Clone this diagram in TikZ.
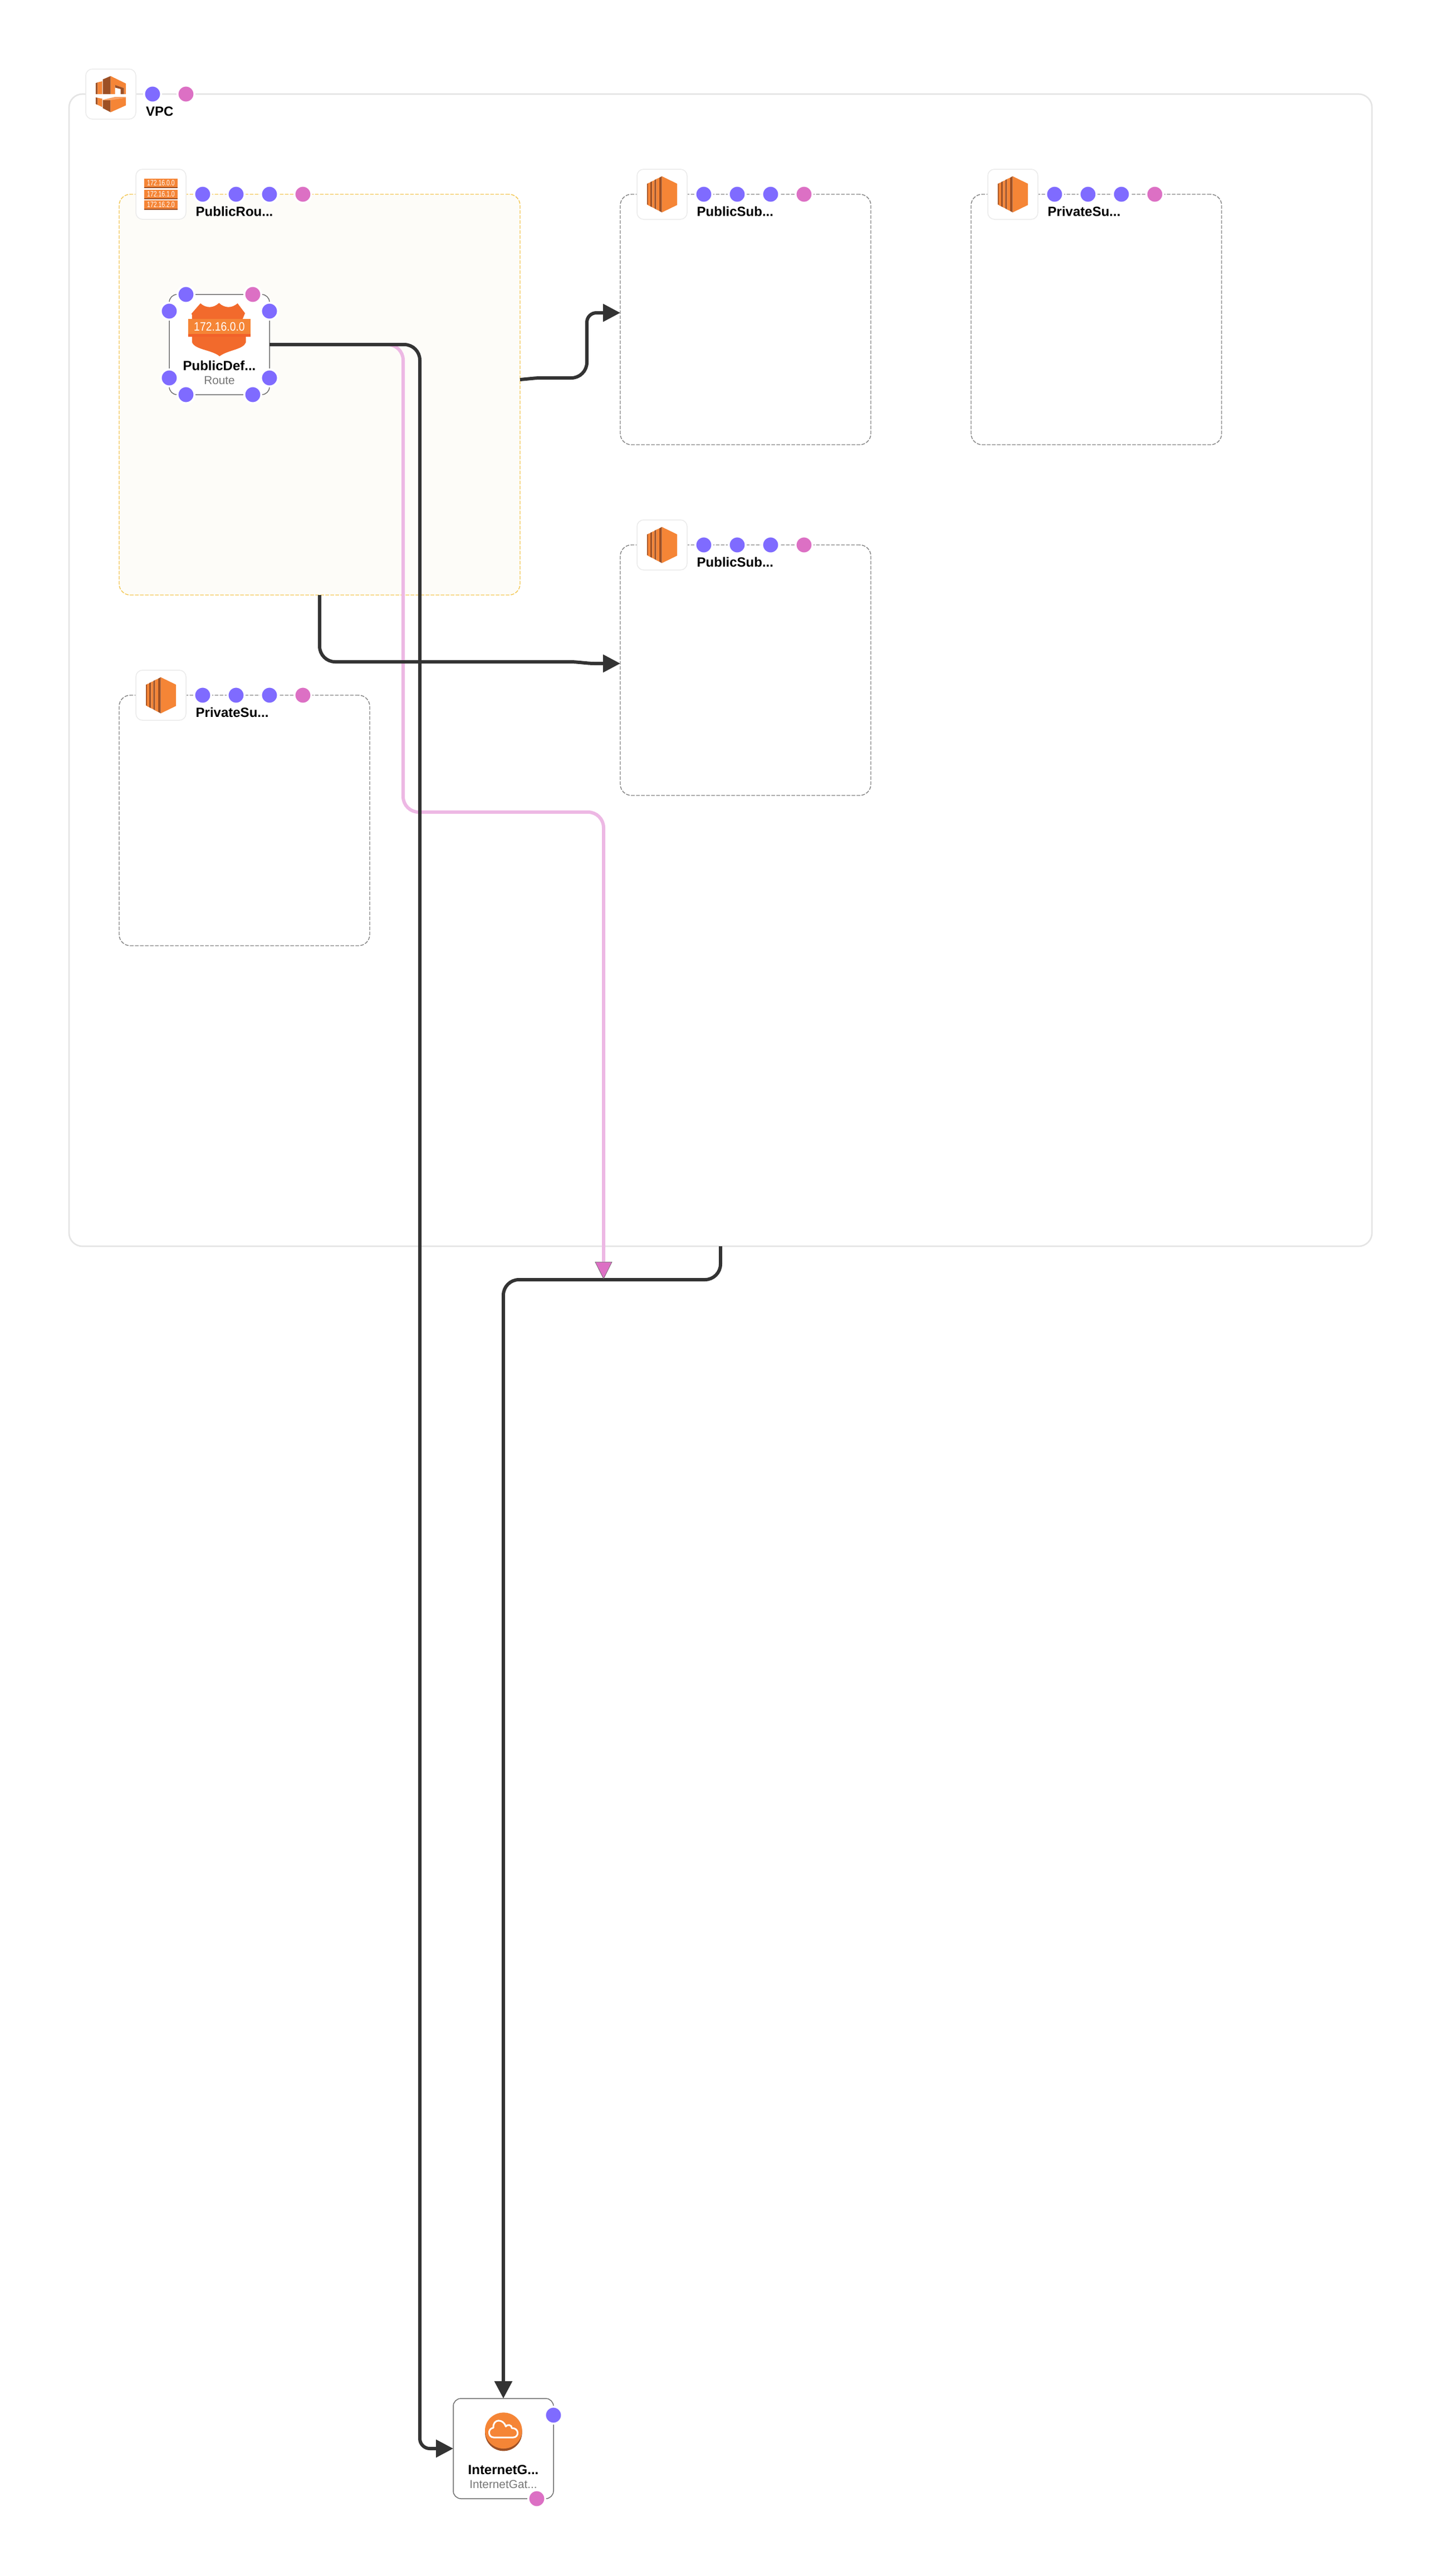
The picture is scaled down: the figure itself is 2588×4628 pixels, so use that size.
\documentclass[tikz,border=0pt]{standalone}
\usepackage{fontspec}
\setmainfont{Liberation Sans}
\usetikzlibrary{arrows.meta}
\definecolor{blueport}{HTML}{7F6BFF}
\definecolor{pinkport}{HTML}{DC70C4}
\definecolor{palepink}{HTML}{EDB8E4}
\definecolor{connblack}{HTML}{333333}
\definecolor{awslight}{HTML}{F58536}
\definecolor{awsdark}{HTML}{9D5025}
\definecolor{shieldedge}{HTML}{F26A2C}
\definecolor{shieldstrip}{HTML}{F2622A}
\definecolor{tablefill}{HTML}{FDFCF8}
\definecolor{tableline}{HTML}{F3C650}
\definecolor{vpcline}{HTML}{E4E4E4}
\definecolor{iconline}{HTML}{EBEBEB}
\definecolor{dashline}{HTML}{808080}
\definecolor{nodeline}{HTML}{707070}
\definecolor{subtext}{HTML}{777777}
\tikzset{
  region/.style={anchor=north west,inner sep=0pt,outer sep=0pt,rectangle},
  vpcbox/.style={region,draw=vpcline,line width=2.6pt,fill=white,rounded corners=24pt},
  subbox/.style={region,draw=dashline,line width=1.4pt,dash pattern=on 6.5pt off 2.5pt,rounded corners=20pt,minimum width=450pt,minimum height=450pt},
  tablebox/.style={region,draw=tableline,fill=tablefill,line width=1.4pt,dash pattern=on 6.5pt off 2.5pt,rounded corners=20pt,minimum width=720pt,minimum height=720pt},
  iconbox/.style={region,draw=iconline,line width=1.5pt,fill=white,rounded corners=12pt,minimum width=90pt,minimum height=90pt},
  resbox/.style={region,draw=nodeline,line width=1.5pt,fill=white,rounded corners=14pt,minimum width=180pt,minimum height=180pt},
  portdot/.style={circle,inner sep=0pt,outer sep=0pt,draw=white,line width=3.5pt,minimum size=30.5pt},
  bport/.style={portdot,fill=blueport},
  pport/.style={portdot,fill=pinkport},
  nameb/.style={inner sep=0pt,font=\fontsize{24}{24}\selectfont\bfseries,text=black},
  namew/.style={nameb,anchor=base west},
  namec/.style={nameb,anchor=base},
  typec/.style={inner sep=0pt,anchor=base,font=\fontsize{20.8}{24}\selectfont,text=subtext},
  conn/.style={draw=connblack,line width=6pt,rounded corners=28pt,-{Triangle[length=31pt,width=31pt,fill=connblack]}},
  pinkconn/.style={draw=palepink,line width=6pt,rounded corners=28pt,-{Triangle[length=31pt,width=31pt,fill=pinkport,color=connblack!80,line width=0.6pt]}}
}
\newcommand{\ecicon}[2]{%
  \begin{scope}[shift={(#1-44,#2-24)},x=0.33333pt,y=-0.33333pt]
    \fill[awslight] (266,110)--(348,150)--(348,265)--(266,305)--cycle;
    \fill[awsdark] (252,118)--(266,110)--(266,305)--(252,297)--cycle;
    \fill[awsdark!85!awslight] (186,150)--(192,148)--(192,265)--(186,262)--cycle;
    \fill[awslight] (192,147)--(204,143)--(204,272)--(192,266)--cycle;
    \fill[awsdark] (204,141)--(214,137)--(214,277)--(204,272)--cycle;
    \fill[awslight] (214,136)--(226,132)--(226,283)--(214,277)--cycle;
    \fill[awsdark] (226,130)--(236,125)--(236,289)--(226,283)--cycle;
    \fill[awslight] (236,125)--(252,118)--(252,297)--(236,289)--cycle;
  \end{scope}}
\begin{document}
\begin{tikzpicture}[x=1pt,y=-1pt]
\useasboundingbox (0,0) rectangle (2588,4628);
\fill[white] (0,0) rectangle (2588,4628);

% VPC
\node[vpcbox,minimum width=2340pt,minimum height=2070pt] (vpc) at (124,169) {};
\node[iconbox] (vpcicon) at (154,124) {};
\begin{scope}[shift={(100,100)},x=0.33333pt,y=-0.33333pt]
  \fill[awslight] (296,110)--(378,150)--(378,207)--(368,207)--(368,175)--(320,158)--(320,207)--(296,207)--cycle;
  \fill[awsdark] (254,128)--(296,110)--(296,207)--(254,207)--cycle;
  \fill[awsdark] (320,158)--(368,175)--(368,207)--(350,207)--(350,180)--(320,172)--cycle;
  \fill[awsdark] (216,148)--(226,144)--(226,207)--(216,207)--cycle;
  \fill[awslight] (226,144)--(251,138)--(251,207)--(226,207)--cycle;
  \fill[awsdark] (216,225)--(226,227)--(226,265)--(216,261)--cycle;
  \fill[awslight] (226,227)--(251,232)--(251,277)--(226,265)--cycle;
  \fill[awsdark] (254,240)--(296,240)--(296,305)--(254,283)--cycle;
  \fill[awslight] (296,238)--(378,226)--(378,268)--(296,305)--cycle;
  \fill[awslight!75!white] (254,238)--(320,222)--(378,222)--(378,226)--(296,240)--(254,240)--cycle;
\end{scope}
\node[bport] (vpcp1) at (274,169) {};
\node[pport] (vpcp2) at (334,169) {};
\node[namew] (vpclabel) at (262,208) {VPC};

% Subnets
\node[subbox] (sub1) at (1114,349) {};
\node[subbox] (sub2) at (1114,979) {};
\node[subbox] (priv1) at (1744,349) {};
\node[subbox] (priv2) at (214,1249) {};

% Route table
\node[tablebox] (rt) at (214,349) {};
\node[iconbox] (rticon) at (244,304) {};
\begin{scope}[shift={(100,100)},x=0.33333pt,y=-0.33333pt]
  \fill[awslight] (476,663) rectangle (658,714);
  \fill[awsdark] (476,708) rectangle (658,714);
  \fill[awslight] (476,723) rectangle (658,773);
  \fill[awsdark] (476,767) rectangle (658,773);
  \fill[awslight] (476,780) rectangle (658,830);
  \fill[awsdark] (476,824) rectangle (658,830);
  \node[inner sep=0pt,text=white,font=\fontsize{14}{14}\selectfont] (rtb1) at (567,686) {\scalebox{0.75}[1]{172.16.0.0}};
  \node[inner sep=0pt,text=white,font=\fontsize{14}{14}\selectfont] (rtb2) at (567,745) {\scalebox{0.75}[1]{172.16.1.0}};
  \node[inner sep=0pt,text=white,font=\fontsize{14}{14}\selectfont] (rtb3) at (567,802) {\scalebox{0.75}[1]{172.16.2.0}};
\end{scope}
\node[bport] (rtp1) at (364,349) {};
\node[bport] (rtp2) at (424,349) {};
\node[bport] (rtp3) at (484,349) {};
\node[pport] (rtp4) at (544,349) {};
\node[namew] (rtlabel) at (351.5,388) {PublicRou...};

% Route
\node[resbox] (route) at (304,529) {};
\begin{scope}[shift={(270,500)},x=0.33333pt,y=-0.33333pt]
  \shade[left color=shieldedge,middle color=awslight,right color=shieldedge,shading angle=90]
    (270,135) .. controls (300,162) and (340,162) .. (370,133) .. controls (400,162) and (440,162) .. (470,135)
    -- (510,188) -- (497,220) -- (515,315) -- (515,345) .. controls (500,385) and (420,385) .. (373,420)
    .. controls (330,385) and (240,385) .. (225,345) -- (225,220) -- (224,188) -- cycle;
  \fill[awslight] (203,220) rectangle (541,315);
  \fill[shieldstrip] (203,300) rectangle (541,315);
  \node[inner sep=0pt,text=white,font=\fontsize{22}{22}\selectfont] (shieldtext) at (372,262) {\scalebox{0.88}[1]{172.16.0.0}};
\end{scope}
\node[namec] (routelabel) at (394,665) {PublicDef...};
\node[typec] (routetype) at (394,690) {Route};
\node[bport] (rp1) at (334,529) {};
\node[pport] (rp2) at (454,529) {};
\node[bport] (rp3) at (304,559) {};
\node[bport] (rp4) at (484,559) {};
\node[bport] (rp5) at (304,679) {};
\node[bport] (rp6) at (484,679) {};
\node[bport] (rp7) at (334,709) {};
\node[bport] (rp8) at (454,709) {};

% Subnet headers
\node[iconbox] (sub1icon) at (1144,304) {};
\ecicon{1144}{304}
\node[bport] (s1p1) at (1264,349) {};
\node[bport] (s1p2) at (1324,349) {};
\node[bport] (s1p3) at (1384,349) {};
\node[pport] (s1p4) at (1444,349) {};
\node[namew] (s1label) at (1251.5,388) {PublicSub...};

\node[iconbox] (sub2icon) at (1144,934) {};
\ecicon{1144}{934}
\node[bport] (s2p1) at (1264,979) {};
\node[bport] (s2p2) at (1324,979) {};
\node[bport] (s2p3) at (1384,979) {};
\node[pport] (s2p4) at (1444,979) {};
\node[namew] (s2label) at (1251.5,1018) {PublicSub...};

\node[iconbox] (priv1icon) at (1774,304) {};
\ecicon{1774}{304}
\node[bport] (p1p1) at (1894,349) {};
\node[bport] (p1p2) at (1954,349) {};
\node[bport] (p1p3) at (2014,349) {};
\node[pport] (p1p4) at (2074,349) {};
\node[namew] (p1label) at (1881.5,388) {PrivateSu...};

\node[iconbox] (priv2icon) at (244,1204) {};
\ecicon{244}{1204}
\node[bport] (p2p1) at (364,1249) {};
\node[bport] (p2p2) at (424,1249) {};
\node[bport] (p2p3) at (484,1249) {};
\node[pport] (p2p4) at (544,1249) {};
\node[namew] (p2label) at (351.5,1288) {PrivateSu...};

% Internet gateway
\node[resbox] (igw) at (814,4309) {};
\begin{scope}[shift={(760,4280)},x=0.33333pt,y=-0.33333pt]
  \fill[awsdark] (433,270) circle [radius=100];
  \fill[awslight] (433,260) circle [x radius=100,y radius=97];
  \draw[white,line width=3pt,line join=round]
    (380,297) -- (485,297) .. controls (518,297) and (518,245) .. (478,247)
    .. controls (478,228) and (452,225) .. (445,238)
    .. controls (432,195) and (375,195) .. (378,245)
    .. controls (345,250) and (350,297) .. (380,297) -- cycle;
\end{scope}
\node[namec] (igwlabel) at (904,4445) {InternetG...};
\node[typec] (igwtype) at (904,4470) {InternetGat...};
\node[bport] (ip1) at (994,4339) {};
\node[pport] (ip2) at (964,4489) {};

% Connector anchors
\coordinate (rtE) at (934,682);
\coordinate (sub1W) at (1114,562);
\coordinate (sub2W) at (1114,1192);
\coordinate (vpcJoin) at (1084,2298);

% Connectors
\draw[conn] (vpc.south) -- (1294,2299) -- (904,2299) -- (igw.north);
\draw[pinkconn] (route.east) -- (724,619) -- (724,1459) -- (1084,1459) -- (vpcJoin);
\draw[conn] (rtE) [rounded corners=6pt] -- (965,679) [rounded corners=28pt] -- (1054,679) [rounded corners=17pt] -- (1054,562) -- (sub1W);
\draw[conn] (rt.south) -- (574,1189) [rounded corners=6pt] -- (1030,1189) -- (1062,1192) -- (sub2W);
\draw[conn] (route.east) -- (754,619) [rounded corners=18pt] -- (754,4399) -- (igw.west);
\end{tikzpicture}
\end{document}
